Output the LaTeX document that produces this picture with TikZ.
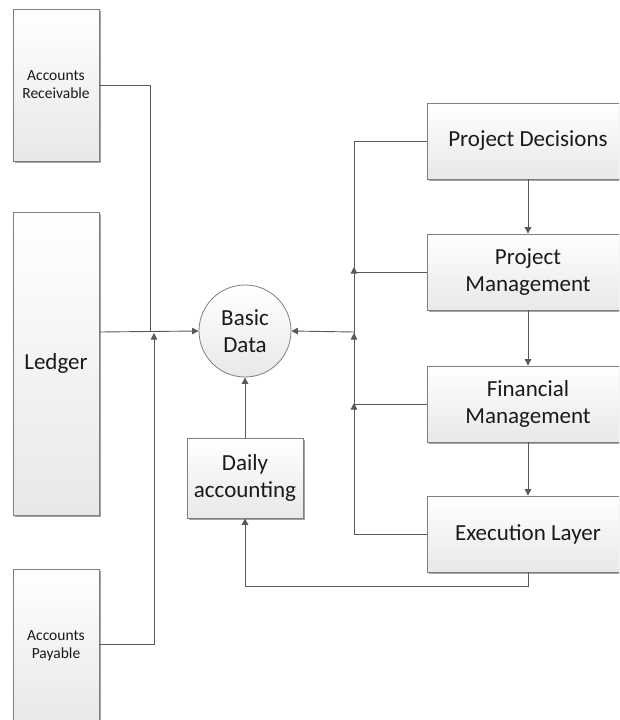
\documentclass[tikz,border=0pt]{standalone}
\usepackage{fontspec}
\setmainfont{Carlito}
\usetikzlibrary{arrows.meta,shadows}
\definecolor{linec}{HTML}{595959}
\definecolor{borderc}{HTML}{7F7F7F}
\definecolor{txtc}{HTML}{1A1A1A}
\tikzset{
  box/.style={draw=borderc, line width=0.8pt, top color=white, bottom color=black!9,
    drop shadow={shadow xshift=1.6pt, shadow yshift=-1.8pt, fill=black!45, opacity=0.8},
    align=center, text=txtc, inner sep=0pt},
  bigtext/.style={font=\fontsize{23}{27}\selectfont},
  smalltext/.style={font=\fontsize{15.5}{18}\selectfont},
  conn/.style={draw=linec, line width=0.9pt},
  arr/.style={conn, -{Triangle[width=6.5pt,length=6.5pt]}},
}
\begin{document}
\begin{tikzpicture}[x=1pt,y=-1pt]
\clip (0,0) rectangle (619,720);
\fill[white] (0,0) rectangle (619,720);
% left boxes
\node[box, smalltext, minimum width=86pt, minimum height=152pt] (ar) at (56,85) {Accounts\\Receivable};
\node[box, bigtext, minimum width=86pt, minimum height=303pt] (ledger) at (56,363.5) {Ledger};
\node[box, smalltext, minimum width=86pt, minimum height=154pt] (ap) at (56,646) {Accounts\\Payable};
% center
\node[circle, draw=borderc, line width=0.8pt, top color=white, bottom color=black!9,
  minimum size=92pt, inner sep=0pt, align=center, text=txtc, bigtext] (bd) at (245,331) {Basic\\Data};
\node[box, bigtext, minimum width=116pt, minimum height=80pt] (da) at (245,478) {Daily\\accounting};
% right boxes
\node[box, bigtext, minimum width=202pt, minimum height=76pt] (pd) at (528,141) {Project Decisions};
\node[box, bigtext, minimum width=202pt, minimum height=76pt] (pm) at (528,272) {Project\\Management};
\node[box, bigtext, minimum width=202pt, minimum height=76pt] (fm) at (528,404) {Financial\\Management};
\node[box, bigtext, minimum width=202pt, minimum height=76pt] (el) at (528,534) {Execution Layer};
% junction coordinates
\coordinate (jl1) at (150,332);
\coordinate (jl2) at (154,333);
\coordinate (jr) at (354,332);
% left connectors
\draw[conn] (ar.east |- 0,85) -| (jl1);
\draw[arr] (ap.east |- 0,644) -| (jl2);
\draw[arr] (ledger.east |- jr) -- (bd.west);
% center connectors
\draw[arr] (da.north) -- (bd.south);
\draw[arr] (el.south) -- ++(0,14) -| (da.south);
% right connectors
\draw[conn] (pd.west) -| (jr |- el.west) -- (el.west);
\draw[conn] (pm.west) -- (jr |- pm.west);
\draw[conn] (fm.west) -- (jr |- fm.west);
\draw[arr] (jr) -- (bd.east);
\draw[arr] ([yshift=-20pt]jr |- fm.west) -- ([yshift=1pt]jr |- fm.west);
\draw[arr] ([yshift=-20pt]jr) -- ([yshift=-1pt]jr);
\draw[arr] ([yshift=-20pt]jr |- pm.west) -- ([yshift=5pt]jr |- pm.west);
\draw[arr] (pd.south) -- (pm.north);
\draw[arr] (pm.south) -- (fm.north);
\draw[arr] (fm.south) -- (el.north);
\end{tikzpicture}
\end{document}
